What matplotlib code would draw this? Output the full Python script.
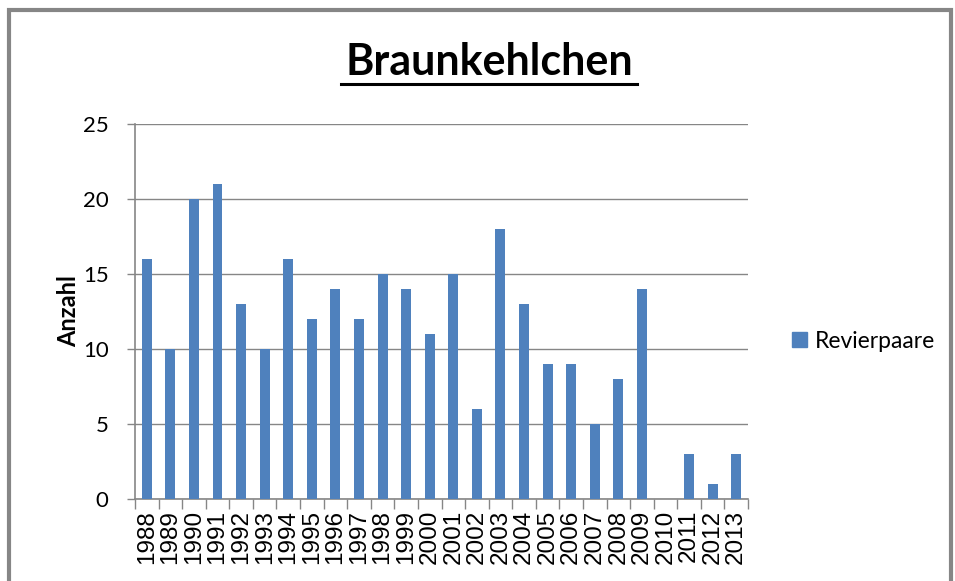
import matplotlib
matplotlib.use("Agg")
import matplotlib.pyplot as plt
from matplotlib.patches import Rectangle, Patch
import numpy as np

years = [str(y) for y in range(1988, 2014)]
revierpaare = [16, 10, 20, 21, 13, 10, 16, 12, 14, 12, 15, 14, 11, 15,
               6, 18, 13, 9, 9, 5, 8, 14, 0, 3, 1, 3]
yticks = [0, 5, 10, 15, 20, 25]

BLUE = "#4F81BD"
GRID = "#868686"

fig = plt.figure(figsize=(9.55, 5.81), dpi=100)
ax = fig.add_axes([135 / 955, 1 - 499 / 581, (748 - 135) / 955, (499 - 124) / 581])

x = np.arange(len(years))
ax.bar(x, revierpaare, width=0.42, color=BLUE, zorder=3)

ax.set_xlim(-0.5, len(years) - 0.5)
ax.set_ylim(0, 25)
ax.set_yticks(yticks)
ax.set_yticklabels([str(v) for v in yticks], fontsize=16, family="Lato")
ax.yaxis.grid(True, color=GRID, linewidth=1, zorder=0)
ax.tick_params(axis="y", length=6, color=GRID, width=1, pad=13)

# category labels centered, tick marks between categories
ax.set_xticks(x)
ax.set_xticklabels(years, rotation=90, fontsize=17.5, family="Liberation Sans")
ax.tick_params(axis="x", length=0, pad=8)
ax.set_xticks(np.arange(-0.5, len(years)), minor=True)
ax.tick_params(axis="x", which="minor", length=7, color=GRID, width=1)

for side in ["top", "right"]:
    ax.spines[side].set_visible(False)
for side in ["left", "bottom"]:
    ax.spines[side].set_color(GRID)
    ax.spines[side].set_linewidth(1.2)

ax.set_ylabel("Anzahl", fontsize=17, fontweight="bold", family="Lato", labelpad=2)

fig.text(489 / 955, 1 - 62 / 581, "Braunkehlchen", fontsize=31, fontweight="bold",
         family="Lato", ha="center", va="center")
# underline under the title
fig.add_artist(plt.Line2D([341 / 955, 637 / 955], [1 - 84 / 581, 1 - 84 / 581],
                          color="black", linewidth=2.2))

fig.legend(handles=[Patch(color=BLUE, label="Revierpaare")], loc="center left",
           bbox_to_anchor=(792 / 955, 1 - 341 / 581), frameon=False,
           borderaxespad=0, borderpad=0,
           prop={"family": "Lato", "size": 16.5}, handlelength=0.65, handleheight=0.65,
           handletextpad=0.35)

# chart border
fig.add_artist(Rectangle((9 / 955, -0.05), (951 - 9) / 955, 1.05 - 10 / 581,
                         transform=fig.transFigure, fill=False, edgecolor=GRID,
                         linewidth=3))

fig.savefig("out.png", dpi=100)
